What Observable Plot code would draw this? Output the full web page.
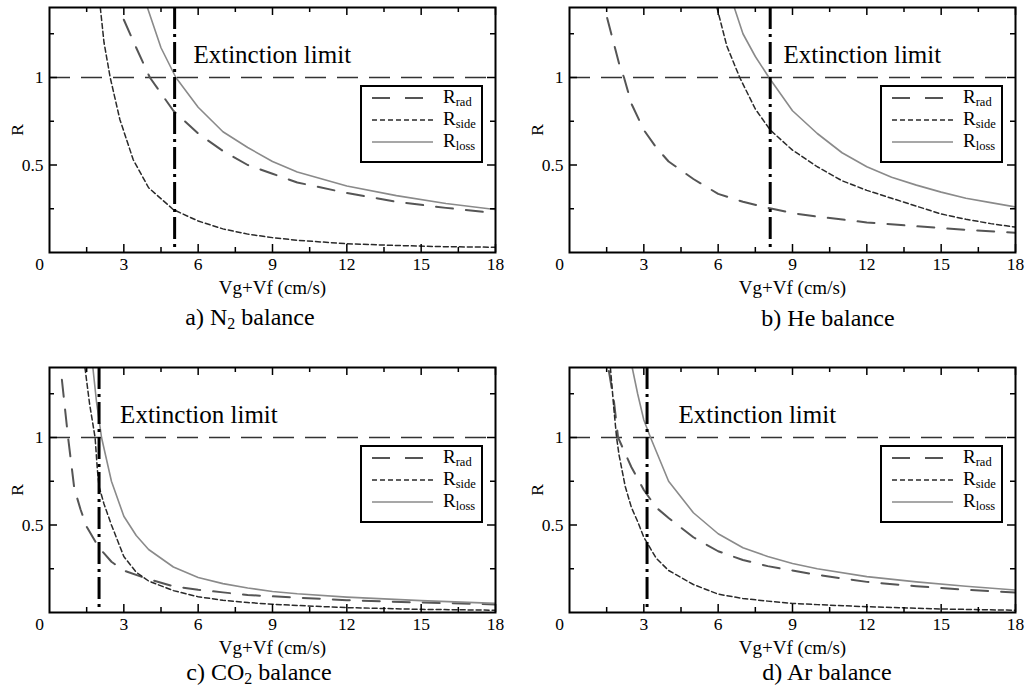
<!DOCTYPE html>
<html>
<head>
<meta charset="utf-8">
<script src="https://cdn.jsdelivr.net/npm/d3@7"></script>
<script src="https://cdn.jsdelivr.net/npm/@observablehq/plot@0.6"></script>
<style>
  body { margin: 0; background: #fff; font-family: "Liberation Serif", "DejaVu Serif", "Noto Serif", serif; }
  #wrap { position: relative; width: 1028px; height: 693px; overflow: hidden; background: #fff; }
  .panel { position: absolute; width: 508px; height: 340px; }
  .panel svg { position: absolute; left: 0; top: 0; }
  .legend { position: absolute; left: 360px; top: 85px; width: 123px; height: 78px; box-sizing: border-box;
            border: 2px solid #000; background: #fff; }
  .legend .row { position: absolute; left: 10px; height: 20px; width: 110px; }
  .legend .row svg { position: absolute; left: 0; top: 0; }
  .legend .lab { position: absolute; left: 71px; top: -1px; font-size: 19px; line-height: 20px; color: #000; white-space: nowrap; }
  .legend .lab sub { font-size: 12.5px; vertical-align: -3px; line-height: 0; }
  .caption { position: absolute; font-size: 24px; line-height: 18px; color: #000; white-space: nowrap; transform: translateX(-50%); }
  .caption sub { font-size: 16px; vertical-align: -4px; line-height: 0; }
</style>
</head>
<body>
<div id="wrap"></div>
<script>
// ---------- data ----------
const xTicks = [3, 6, 9, 12, 15, 18];
const xMinor = [1.5, 4.5, 7.5, 10.5, 13.5, 16.5];
const yTicks = [0.5, 1];
const yMinor = [0.25, 0.75, 1.25];
const seriesKeys = ["rad", "side", "loss"];
const captions = ["a) N<sub>2</sub> balance", "b) He balance", "c) CO<sub>2</sub> balance", "d) Ar balance"];
const extinctionLimitX = [5.05, 8.1, 2.0, 3.13];
const extinctionTextX = [5.81, 8.64, 2.85, 4.4];
const extinctionTextY = 1.13;

// a) N2 balance
const n2Rad  = [[3.0,1.33],[3.5,1.17],[4.05,1.0],[5,0.81],[6,0.68],[7,0.58],[8,0.5],[9,0.45],[10,0.4],[12,0.34],[14,0.29],[16,0.255],[18,0.225]];
const n2Side = [[2.05,1.4],[2.2,1.2],[2.45,1.0],[2.84,0.76],[3.38,0.53],[4,0.37],[5,0.245],[6,0.18],[7,0.135],[8,0.105],[9,0.085],[10,0.07],[12,0.05],[14,0.04],[16,0.033],[18,0.03]];
const n2Loss = [[3.95,1.4],[4.5,1.17],[5.1,1.0],[6,0.83],[7,0.69],[8,0.6],[9,0.52],[10,0.46],[12,0.38],[14,0.325],[16,0.28],[18,0.245]];
// b) He balance
const heRad  = [[1.52,1.34],[2,1.08],[2.2,1.0],[2.5,0.85],[3,0.7],[3.5,0.6],[4,0.52],[4.5,0.47],[5,0.42],[6,0.335],[7,0.29],[8,0.255],[9,0.225],[10,0.205],[12,0.172],[14,0.15],[16,0.13],[18,0.113]];
const heSide = [[5.95,1.4],[6.35,1.18],[6.87,1.0],[7.5,0.82],[8.1,0.7],[9,0.585],[10,0.49],[11,0.41],[12,0.355],[13,0.31],[14,0.265],[15,0.22],[16,0.19],[17,0.165],[18,0.145]];
const heLoss = [[6.65,1.4],[7,1.25],[7.5,1.12],[8.05,1.0],[9,0.81],[10,0.68],[11,0.57],[12,0.49],[13,0.43],[14,0.385],[15,0.345],[16,0.31],[17,0.285],[18,0.26]];
// c) CO2 balance
const co2Rad  = [[0.5,1.33],[0.75,1.0],[1,0.71],[1.25,0.59],[1.5,0.49],[2,0.37],[2.5,0.29],[3,0.24],[4,0.19],[5,0.15],[6,0.13],[7,0.115],[8,0.1],[10,0.085],[12,0.07],[15,0.057],[18,0.046]];
const co2Side = [[1.43,1.4],[1.62,1.19],[1.84,1.0],[1.93,0.82],[2,0.72],[2.2,0.62],[2.5,0.5],[3,0.32],[3.5,0.23],[4,0.18],[5,0.125],[6,0.09],[7,0.07],[8,0.057],[9,0.047],[10,0.04],[12,0.028],[15,0.018],[18,0.013]];
const co2Loss = [[1.75,1.4],[1.9,1.2],[2.1,1.0],[2.5,0.75],[3,0.55],[3.5,0.44],[4,0.36],[5,0.26],[6,0.2],[7,0.165],[8,0.14],[9,0.12],[10,0.107],[12,0.088],[15,0.068],[18,0.052]];
// d) Ar balance
const arRad  = [[1.59,1.38],[1.8,1.2],[1.96,1.0],[2.5,0.83],[3,0.7],[3.5,0.6],[4,0.54],[5,0.43],[6,0.35],[7,0.3],[8,0.265],[9,0.24],[10,0.215],[12,0.175],[14,0.15],[16,0.13],[18,0.114]];
const arSide = [[1.65,1.4],[1.8,1.15],[1.9,1.0],[2,0.9],[2.25,0.72],[2.5,0.6],[2.75,0.52],[3,0.43],[3.5,0.31],[4,0.24],[5,0.16],[6,0.105],[7,0.08],[8,0.065],[9,0.052],[10,0.045],[12,0.033],[15,0.02],[18,0.013]];
const arLoss = [[2.53,1.4],[2.75,1.25],[3,1.1],[3.27,1.0],[4,0.75],[5,0.57],[6,0.45],[7,0.37],[8,0.32],[9,0.28],[10,0.25],[12,0.205],[14,0.175],[16,0.15],[18,0.128]];

const panelSeries = [
  [n2Rad, n2Side, n2Loss],
  [heRad, heSide, heLoss],
  [co2Rad, co2Side, co2Loss],
  [arRad, arSide, arLoss]
];

// ---------- styles ----------
const FONT = '"Liberation Serif", "DejaVu Serif", "Noto Serif", serif';
const seriesStyle = {
  rad:  {stroke: "#555", strokeWidth: 2, strokeDasharray: "17,13"},
  side: {stroke: "#2a2a2a", strokeWidth: 1.5, strokeDasharray: "5,3"},
  loss: {stroke: "#8a8a8a", strokeWidth: 1.6, strokeDasharray: null}
};
const panelPos = [[0, 0], [520, 0], [0, 360], [520, 360]];
const captionPos = [[250, 308], [308, 309], [259, 303], [307, 303]];

const W = 508, H = 300, mL = 49, mR = 13, mT = 7, mB = 48;
const iw = W - mL - mR, ih = H - mT - mB;
const wrap = document.getElementById("wrap");

panelSeries.forEach((series, i) => {
  const div = document.createElement("div");
  div.className = "panel";
  div.style.left = panelPos[i][0] + "px";
  div.style.top = panelPos[i][1] + "px";

  const lineMarks = series.map((pts, k) => {
    const st = seriesStyle[seriesKeys[k]];
    return Plot.line(pts.map(([x, r]) => ({x, r})), {
      x: "x", y: "r", stroke: st.stroke, strokeWidth: st.strokeWidth,
      strokeDasharray: st.strokeDasharray, clip: true
    });
  });

  const svg = Plot.plot({
    width: W, height: H,
    marginLeft: mL, marginRight: mR, marginTop: mT, marginBottom: mB,
    x: {domain: [0, 18]},
    y: {domain: [0, 1.4]},
    style: {fontFamily: FONT, fontSize: "17.5px", background: "transparent", color: "#000"},
    marks: [
      Plot.ruleY([1], {stroke: "#333", strokeWidth: 1.5, strokeDasharray: "21,11"}),
      ...lineMarks,
      Plot.ruleX([extinctionLimitX[i]], {stroke: "#000", strokeWidth: 3, strokeDasharray: "22,5,3,5"}),
      Plot.text(["Extinction limit"], {x: () => extinctionTextX[i], y: () => extinctionTextY, text: d => d,
        textAnchor: "start", lineAnchor: "middle", fontSize: 25, fontFamily: FONT, fill: "#000"}),
      // inward ticks on all four sides
      Plot.tickX(xTicks, {x: d => d, insetTop: ih - 8, stroke: "#000", strokeWidth: 1.5}),
      Plot.tickX(xMinor, {x: d => d, insetTop: ih - 5, stroke: "#000", strokeWidth: 1.5}),
      Plot.tickX(xTicks, {x: d => d, insetBottom: ih - 8, stroke: "#000", strokeWidth: 1.5}),
      Plot.tickX(xMinor, {x: d => d, insetBottom: ih - 5, stroke: "#000", strokeWidth: 1.5}),
      Plot.tickY(yTicks, {y: d => d, insetRight: iw - 8, stroke: "#000", strokeWidth: 1.5}),
      Plot.tickY(yMinor, {y: d => d, insetRight: iw - 5, stroke: "#000", strokeWidth: 1.5}),
      Plot.tickY(yTicks, {y: d => d, insetLeft: iw - 8, stroke: "#000", strokeWidth: 1.5}),
      Plot.tickY(yMinor, {y: d => d, insetLeft: iw - 5, stroke: "#000", strokeWidth: 1.5}),
      Plot.frame({stroke: "#000", strokeWidth: 2}),
      Plot.axisX(xTicks, {anchor: "bottom", tickSize: 0, tickPadding: 5, fontFamily: FONT,
        label: "Vg+Vf (cm/s)", labelAnchor: "center", labelOffset: 41, labelArrow: false}),
      Plot.axisX([0], {anchor: "bottom", tickSize: 0, tickPadding: 5, dx: -10, label: null, fontFamily: FONT}),
      Plot.axisY(yTicks, {anchor: "left", tickSize: 0, tickPadding: 6, tickFormat: d => String(d), fontFamily: FONT,
        label: "R", labelAnchor: "center", labelOffset: 39, labelArrow: false})
    ]
  });
  // slightly larger x-axis title, as in the reference
  d3.select(svg).selectAll('[aria-label="x-axis label"]').attr("font-size", 19);
  div.appendChild(svg);

  // legend
  const leg = document.createElement("div");
  leg.className = "legend";
  seriesKeys.forEach((key, k) => {
    const st = seriesStyle[key];
    const row = document.createElement("div");
    row.className = "row";
    row.style.top = (1 + k * 22) + "px";
    row.innerHTML =
      `<svg width="64" height="20"><line x1="0" x2="61" y1="10" y2="10" stroke="${st.stroke}" stroke-width="${st.strokeWidth}"` +
      (st.strokeDasharray ? ` stroke-dasharray="${key === "rad" ? "18,15" : st.strokeDasharray}"` : "") +
      `/></svg><span class="lab">R<sub>${key}</sub></span>`;
    leg.appendChild(row);
  });
  div.appendChild(leg);

  // caption
  const cap = document.createElement("div");
  cap.className = "caption";
  cap.style.left = captionPos[i][0] + "px";
  cap.style.top = captionPos[i][1] + "px";
  cap.innerHTML = captions[i];
  div.appendChild(cap);

  wrap.appendChild(div);
});
</script>
</body>
</html>
